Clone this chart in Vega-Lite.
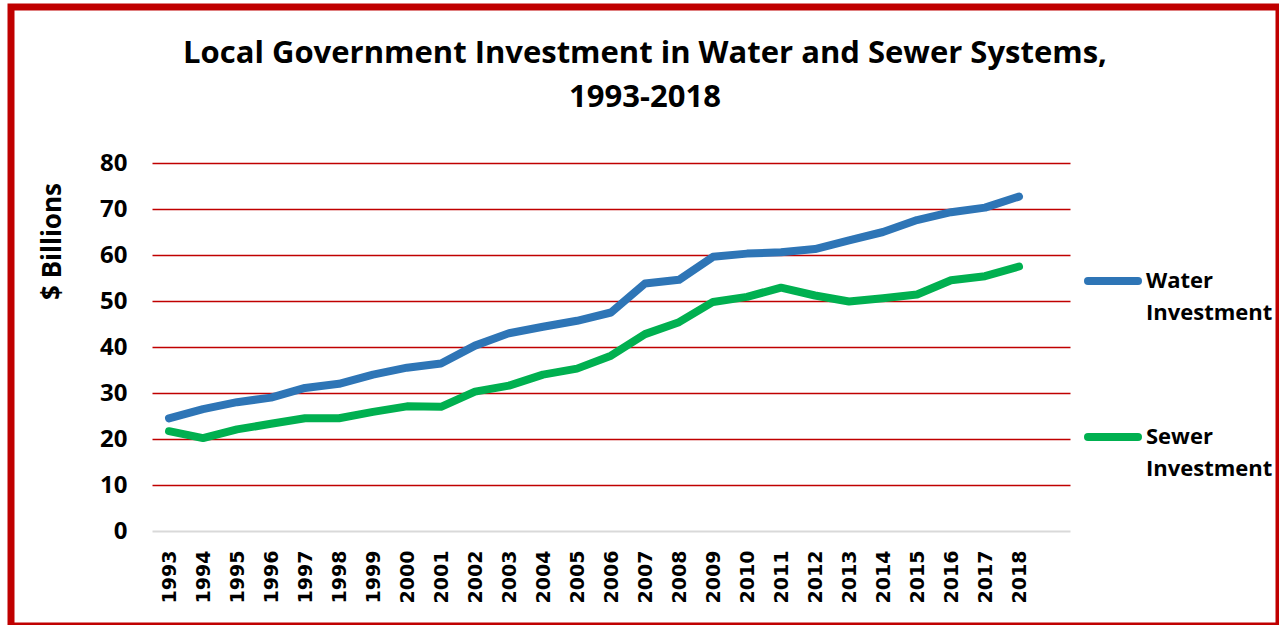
{
  "$schema": "https://vega.github.io/schema/vega-lite/v6.json",
  "width": 1268,
  "height": 619,
  "autosize": {"type": "none"},
  "padding": {"left": 11, "top": 7, "right": 0, "bottom": 0},
  "background": "white",
  "title": {
    "text": ["Local Government Investment in Water and Sewer Systems,", "1993-2018"],
    "font": "Open Sans",
    "fontSize": 31,
    "fontWeight": "bold",
    "color": "black",
    "anchor": "middle",
    "frame": "group",
    "offset": -138,
    "lineHeight": 44,
    "baseline": "bottom"
  },
  "data": {
    "values": [
      {"year": 1993, "series": "Water Investment", "value": 24.5},
      {"year": 1994, "series": "Water Investment", "value": 26.5},
      {"year": 1995, "series": "Water Investment", "value": 28.0},
      {"year": 1996, "series": "Water Investment", "value": 29.0},
      {"year": 1997, "series": "Water Investment", "value": 31.1},
      {"year": 1998, "series": "Water Investment", "value": 32.0},
      {"year": 1999, "series": "Water Investment", "value": 34.0},
      {"year": 2000, "series": "Water Investment", "value": 35.5},
      {"year": 2001, "series": "Water Investment", "value": 36.4},
      {"year": 2002, "series": "Water Investment", "value": 40.3},
      {"year": 2003, "series": "Water Investment", "value": 43.0},
      {"year": 2004, "series": "Water Investment", "value": 44.4},
      {"year": 2005, "series": "Water Investment", "value": 45.7},
      {"year": 2006, "series": "Water Investment", "value": 47.5},
      {"year": 2007, "series": "Water Investment", "value": 53.8},
      {"year": 2008, "series": "Water Investment", "value": 54.6},
      {"year": 2009, "series": "Water Investment", "value": 59.6},
      {"year": 2010, "series": "Water Investment", "value": 60.3},
      {"year": 2011, "series": "Water Investment", "value": 60.6},
      {"year": 2012, "series": "Water Investment", "value": 61.3},
      {"year": 2013, "series": "Water Investment", "value": 63.2},
      {"year": 2014, "series": "Water Investment", "value": 65.0},
      {"year": 2015, "series": "Water Investment", "value": 67.6},
      {"year": 2016, "series": "Water Investment", "value": 69.3},
      {"year": 2017, "series": "Water Investment", "value": 70.3},
      {"year": 2018, "series": "Water Investment", "value": 72.7},
      {"year": 1993, "series": "Sewer Investment", "value": 21.7},
      {"year": 1994, "series": "Sewer Investment", "value": 20.2},
      {"year": 1995, "series": "Sewer Investment", "value": 22.1},
      {"year": 1996, "series": "Sewer Investment", "value": 23.3},
      {"year": 1997, "series": "Sewer Investment", "value": 24.5},
      {"year": 1998, "series": "Sewer Investment", "value": 24.5},
      {"year": 1999, "series": "Sewer Investment", "value": 25.9},
      {"year": 2000, "series": "Sewer Investment", "value": 27.1},
      {"year": 2001, "series": "Sewer Investment", "value": 27.0},
      {"year": 2002, "series": "Sewer Investment", "value": 30.3},
      {"year": 2003, "series": "Sewer Investment", "value": 31.6},
      {"year": 2004, "series": "Sewer Investment", "value": 34.0},
      {"year": 2005, "series": "Sewer Investment", "value": 35.3},
      {"year": 2006, "series": "Sewer Investment", "value": 38.1},
      {"year": 2007, "series": "Sewer Investment", "value": 42.8},
      {"year": 2008, "series": "Sewer Investment", "value": 45.4},
      {"year": 2009, "series": "Sewer Investment", "value": 49.8},
      {"year": 2010, "series": "Sewer Investment", "value": 50.9},
      {"year": 2011, "series": "Sewer Investment", "value": 52.9},
      {"year": 2012, "series": "Sewer Investment", "value": 51.2},
      {"year": 2013, "series": "Sewer Investment", "value": 49.9},
      {"year": 2014, "series": "Sewer Investment", "value": 50.6},
      {"year": 2015, "series": "Sewer Investment", "value": 51.4},
      {"year": 2016, "series": "Sewer Investment", "value": 54.5},
      {"year": 2017, "series": "Sewer Investment", "value": 55.4},
      {"year": 2018, "series": "Sewer Investment", "value": 57.5}
    ]
  },
  "mark": {"type": "line", "strokeWidth": 8, "strokeCap": "round", "strokeJoin": "round"},
  "encoding": {
    "x": {
      "field": "year",
      "type": "quantitative",
      "scale": {"domain": [1992.5, 2019.5], "range": [141, 1059], "nice": false, "zero": false},
      "axis": {
        "title": null,
        "values": [1993, 1994, 1995, 1996, 1997, 1998, 1999, 2000, 2001, 2002, 2003, 2004, 2005, 2006, 2007, 2008, 2009, 2010, 2011, 2012, 2013, 2014, 2015, 2016, 2017, 2018],
        "format": "d",
        "labelAngle": -90,
        "labelFont": "DejaVu Sans",
        "labelFontWeight": "bold",
        "labelFontSize": 19,
        "labelColor": "black",
        "labelPadding": 19,
        "ticks": false,
        "tickSize": 0,
        "grid": false,
        "domainColor": "#D9D9D9",
        "domainWidth": 2,
        "offset": -95,
        "labelOverlap": false,
        "labelBound": false,
        "labelFlush": false
      }
    },
    "y": {
      "field": "value",
      "type": "quantitative",
      "scale": {"domain": [0, 80], "range": [524, 156], "nice": false},
      "axis": {
        "title": "$ Billions",
        "titleFont": "Open Sans",
        "titleFontSize": 26,
        "titleFontWeight": "bold",
        "titleColor": "black",
        "titleX": -100,
        "titleY": 234,
        "titleAngle": -90,
        "titleAlign": "center",
        "titleBaseline": "middle",
        "values": [0, 10, 20, 30, 40, 50, 60, 70, 80],
        "labelFont": "Open Sans",
        "labelFontSize": 24,
        "labelFontWeight": "bold",
        "labelColor": "black",
        "labelPadding": 25,
        "ticks": false,
        "tickSize": 0,
        "domain": false,
        "offset": -141,
        "grid": true,
        "gridColor": {"condition": {"test": "datum.value === 0", "value": "transparent"}, "value": "#C00000"},
        "gridWidth": 1.6
      }
    },
    "color": {
      "field": "series",
      "type": "nominal",
      "sort": ["Water Investment", "Sewer Investment"],
      "scale": {"domain": ["Water Investment", "Sewer Investment"], "range": ["#2E75B6", "#00B050"]},
      "legend": {
        "orient": "none",
        "legendX": 1073,
        "legendY": 245,
        "title": null,
        "padding": 0,
        "symbolType": "stroke",
        "symbolSize": 2500,
        "symbolStrokeWidth": 8,
        "labelFont": "Open Sans",
        "labelFontSize": 22,
        "labelFontWeight": "bold",
        "labelColor": "black",
        "labelExpr": "split(datum.label, ' ')",
        "labelLimit": 300,
        "labelOffset": 4,
        "rowPadding": 84,
        "encode": {
          "labels": {"update": {"lineHeight": {"value": 32}}},
          "symbols": {"update": {"strokeCap": {"value": "round"}}}
        }
      }
    }
  },
  "config": {
    "view": {"stroke": "#C00000", "strokeWidth": 7, "fill": "white"}
  }
}
